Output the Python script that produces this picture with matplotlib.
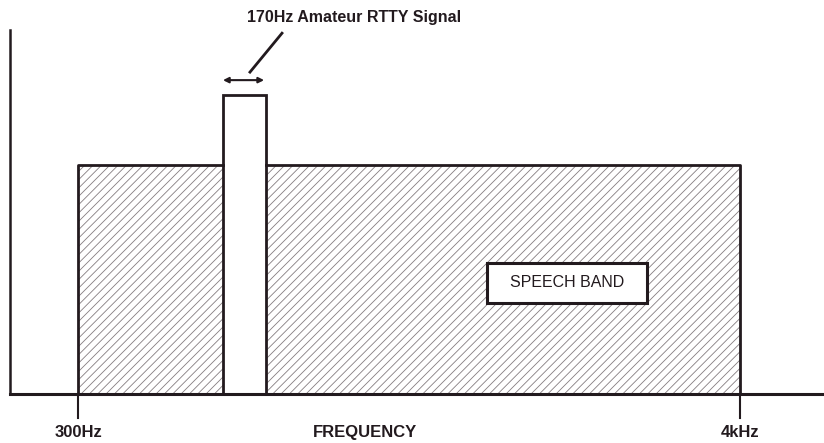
import matplotlib.pyplot as plt
from matplotlib.patches import Rectangle

plt.rcParams['font.family'] = ['Liberation Sans', 'DejaVu Sans']
plt.rcParams['hatch.linewidth'] = 0.6

# speech band split around the RTTY signal (Hz, relative level)
band_left = [300, 1351]
band_width = [811, 2649]
band_height = [1.0, 1.0]

rtty_left = 1110
rtty_width = 241
rtty_height = 1.306

tick_pos = [300, 4000]
tick_lab = ["300Hz", "4kHz"]

ink = '#221a1e'
hatch_col = '#857d80'

fig = plt.figure(figsize=(8.24, 4.43), dpi=100)
ax = fig.add_axes([0, 0, 1, 1])
ax.set_xlim(-136, 4469)
ax.set_ylim(-0.214, 1.721)
ax.axis('off')

# hatched speech band
ax.bar(band_left, band_height, width=band_width, align='edge',
       color='white', edgecolor=hatch_col, lw=0, hatch='////', zorder=1)
# outline of band + rtty
ax.plot([300, 300, 1110], [0, 1, 1], color=ink, lw=2, zorder=3)
ax.plot([1351, 4000, 4000], [1, 1, 0], color=ink, lw=2, zorder=3)
ax.bar(rtty_left, rtty_height, width=rtty_width, align='edge',
       facecolor='white', edgecolor=ink, lw=2, zorder=2)

# axes
ax.plot([-80, -80], [0, 1.59], color=ink, lw=1.8, zorder=3)
ax.plot([-80, 4469], [0, 0], color=ink, lw=2.2, zorder=3)
for p, lab in zip(tick_pos, tick_lab):
    ax.plot([p, p], [0, -0.105], color=ink, lw=1.5)
    ax.text(p, -0.166, lab, ha='center', va='center', fontsize=12,
            fontweight='bold', color=ink)
ax.text(1904, -0.166, "FREQUENCY", ha='center', va='center', fontsize=12,
        fontweight='bold', color=ink)

# rtty annotation
ax.annotate('', xy=(1110, 1.371), xytext=(1340, 1.371),
            arrowprops=dict(arrowstyle='<|-|>', color=ink, lw=1.5,
                            mutation_scale=8, shrinkA=0, shrinkB=0))
ax.plot([1261, 1440], [1.406, 1.576], color=ink, lw=2)
ax.text(1840, 1.646, "170Hz Amateur RTTY Signal", ha='center', va='center',
        fontsize=11.5, fontweight='bold', color=ink)

ax.add_patch(Rectangle((2586, 0.397), 894, 0.175, facecolor='white',
                       edgecolor=ink, lw=2.2, zorder=4))
ax.text(3033, 0.485, "SPEECH BAND", ha='center', va='center', fontsize=11.5,
        color=ink, zorder=5)

fig.savefig('out.png', dpi=100)
